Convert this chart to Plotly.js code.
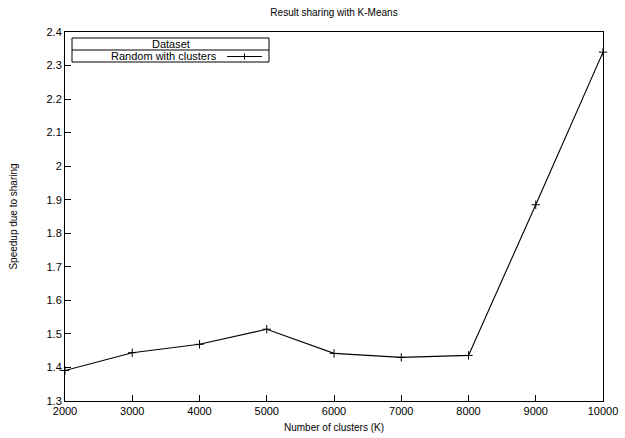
<!DOCTYPE html>
<html>
<head>
<meta charset="utf-8">
<script src="https://cdn.plot.ly/plotly-3.0.1.min.js"></script>
<style>html,body{margin:0;padding:0;background:#fff;}#chart{width:625px;height:438px;}</style>
</head>
<body>
<div id="chart"></div>
<script>
const clusters = [2000, 3000, 4000, 5000, 6000, 7000, 8000, 9000, 10000];
const speedup = [1.391, 1.444, 1.469, 1.514, 1.442, 1.430, 1.436, 1.885, 2.340];
const yTicks = [1.3, 1.4, 1.5, 1.6, 1.7, 1.8, 1.9, 2, 2.1, 2.2, 2.3, 2.4];
const xTicks = [2000, 3000, 4000, 5000, 6000, 7000, 8000, 9000, 10000];
const seriesName = 'Random with clusters';
const legendTitle = 'Dataset';

const W = 625, H = 438;
const M = {l: 65, r: 22, t: 32, b: 37};
const pw = W - M.l - M.r, ph = H - M.t - M.b;
const px = x => (x - M.l) / pw;
const py = y => (H - M.b - y) / ph;

const font = 'Liberation Sans, Arial, Helvetica, sans-serif';

const trace = {
  x: clusters, y: speedup, type: 'scatter', mode: 'lines+markers',
  name: seriesName,
  line: {color: '#000', width: 1.1},
  marker: {symbol: 'cross-thin', size: 6, line: {color: '#000', width: 1}},
  showlegend: false, cliponaxis: false
};

const lb = {x0: 72, x1: 269, y0: 38, ysep: 50, y1: 62};
const shapes = [
  {type: 'rect', xref: 'paper', yref: 'paper', x0: px(lb.x0), x1: px(lb.x1), y0: py(lb.y1), y1: py(lb.y0), line: {color: '#000', width: 1}, fillcolor: '#fff', layer: 'above'},
  {type: 'line', xref: 'paper', yref: 'paper', x0: px(lb.x0), x1: px(lb.x1), y0: py(lb.ysep), y1: py(lb.ysep), line: {color: '#000', width: 1}, layer: 'above'},
  {type: 'line', xref: 'paper', yref: 'paper', x0: px(227), x1: px(262), y0: py(56.5), y1: py(56.5), line: {color: '#000', width: 1.1}, layer: 'above'},
  {type: 'line', xref: 'paper', yref: 'paper', x0: px(244.5), x1: px(244.5), y0: py(53.5), y1: py(59.5), line: {color: '#000', width: 1}, layer: 'above'}
];

const annotations = [
  {xref: 'paper', yref: 'paper', x: px(170.5), y: py(44), text: legendTitle, showarrow: false, xanchor: 'center', yanchor: 'middle', font: {family: font, size: 11, color: '#000'}},
  {xref: 'paper', yref: 'paper', x: px(219), y: py(56), text: seriesName, showarrow: false, xanchor: 'right', yanchor: 'middle', font: {family: font, size: 11, color: '#000'}}
];

const layout = {
  width: W, height: H,
  margin: M,
  paper_bgcolor: '#fff', plot_bgcolor: '#fff',
  font: {family: font, size: 11, color: '#000'},
  title: {text: 'Result sharing with K-Means', x: 0.5 * (M.l + W - M.r) / W, xanchor: 'center', y: 1 - 12 / H, yanchor: 'middle', font: {family: font, size: 10, color: '#000'}},
  xaxis: {
    range: [2000, 10000], tickvals: xTicks, ticktext: xTicks.map(String),
    ticks: 'inside', ticklen: 6, tickwidth: 1, tickcolor: '#000',
    showline: true, linecolor: '#000', linewidth: 1, mirror: true,
    showgrid: false, zeroline: false,
    tickfont: {family: font, size: 11, color: '#000'},
    title: {text: 'Number of clusters (K)', font: {family: font, size: 10, color: '#000'}, standoff: 7}
  },
  yaxis: {
    range: [1.3, 2.4], tickvals: yTicks, ticktext: yTicks.map(v => String(v)),
    ticks: 'inside', ticklen: 6, tickwidth: 1, tickcolor: '#000',
    showline: true, linecolor: '#000', linewidth: 1, mirror: true,
    showgrid: false, zeroline: false,
    tickfont: {family: font, size: 11, color: '#000'},
    title: {text: 'Speedup due to sharing', font: {family: font, size: 10, color: '#000'}, standoff: 27}
  },
  shapes: shapes,
  annotations: annotations,
  showlegend: false
};

Plotly.newPlot('chart', [trace], layout, {staticPlot: true, displayModeBar: false});
</script>
</body>
</html>
